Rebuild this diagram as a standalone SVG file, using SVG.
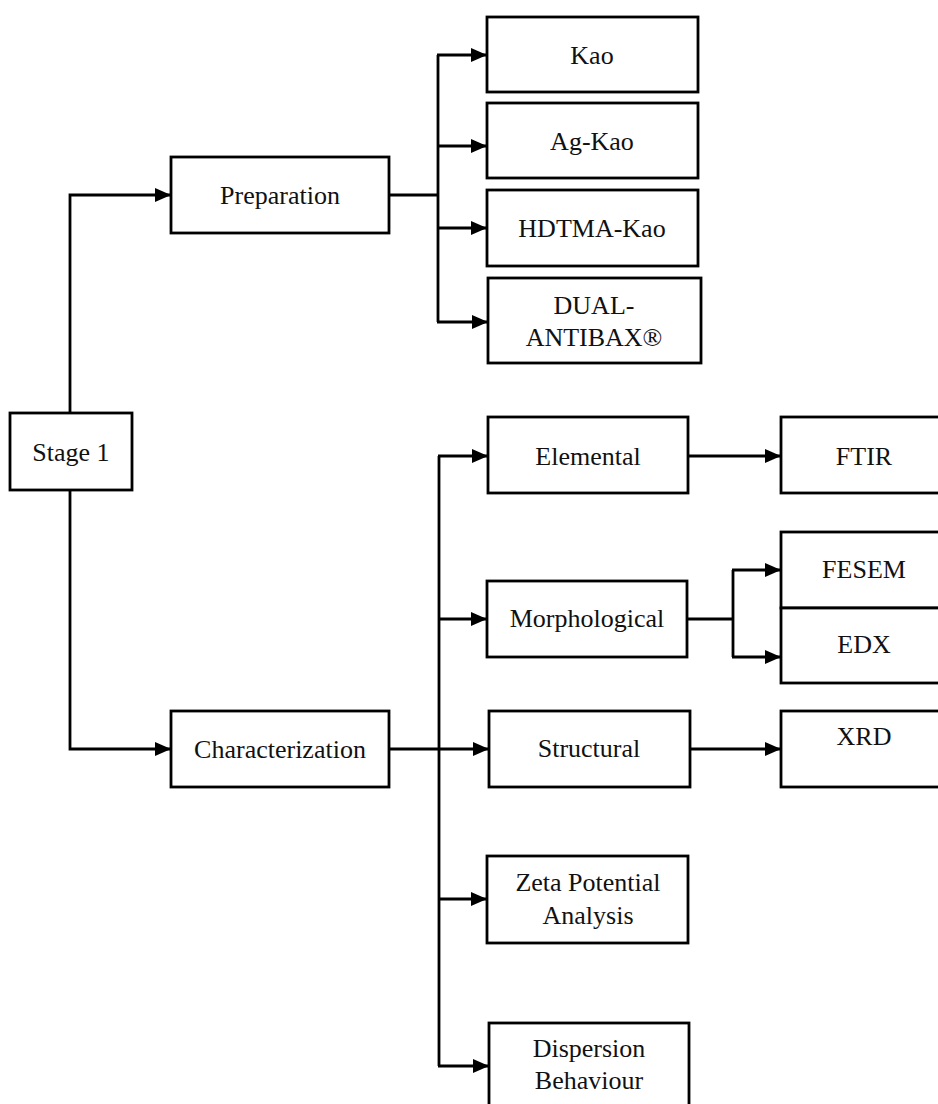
<svg xmlns="http://www.w3.org/2000/svg" width="938" height="1104" viewBox="0 0 938 1104">
<style>
.box{fill:#fff;stroke:#000;stroke-width:2.8}
.lbl{font-family:"Liberation Serif","Times New Roman",serif;font-size:26px;fill:#111;text-anchor:middle}
.ln{fill:none;stroke:#000;stroke-width:2.8}
.ar{fill:none;stroke:#000;stroke-width:2.8;marker-end:url(#ah)}
</style>
<defs>
<marker id="ah" markerUnits="userSpaceOnUse" markerWidth="16" markerHeight="14" refX="16" refY="7" orient="auto">
<path d="M0,0 L16,7 L0,14 z" fill="#000"/>
</marker>
</defs>
<rect width="938" height="1104" fill="#fff"/>
<g id="connectors">
<path class="ar" d="M70,413 V195 H171"/>
<path class="ar" d="M70,490 V749 H171"/>
<path class="ln" d="M389,195 H438"/>
<path class="ln" d="M438,55 V322"/>
<path class="ar" d="M437,55 H487"/>
<path class="ar" d="M437,146 H487"/>
<path class="ar" d="M437,228 H487"/>
<path class="ar" d="M437,322 H488"/>
<path class="ar" d="M389,749 H489"/>
<path class="ln" d="M439,456 V1066"/>
<path class="ar" d="M438,456 H488"/>
<path class="ar" d="M438,619 H487"/>
<path class="ar" d="M438,899 H487"/>
<path class="ar" d="M438,1066 H489"/>
<path class="ar" d="M688,456 H781"/>
<path class="ln" d="M687,619 H733"/>
<path class="ln" d="M733,570 V657"/>
<path class="ar" d="M732,570 H781"/>
<path class="ar" d="M732,657 H781"/>
<path class="ar" d="M690,749 H781"/>
</g>
<g id="stage1"><rect class="box" x="10" y="413" width="122" height="77"/><text class="lbl" x="71" y="461">Stage 1</text></g>
<g id="preparation"><rect class="box" x="171" y="157" width="218" height="76"/><text class="lbl" x="280" y="204">Preparation</text></g>
<g id="characterization"><rect class="box" x="171" y="711" width="218" height="76"/><text class="lbl" x="280" y="758">Characterization</text></g>
<g id="kao"><rect class="box" x="487" y="17" width="211" height="75"/><text class="lbl" x="592" y="64">Kao</text></g>
<g id="agkao"><rect class="box" x="487" y="103" width="211" height="75"/><text class="lbl" x="592" y="150">Ag-Kao</text></g>
<g id="hdtma"><rect class="box" x="487" y="190" width="211" height="76"/><text class="lbl" x="592" y="237">HDTMA-Kao</text></g>
<g id="dual"><rect class="box" x="488" y="278" width="213" height="85"/><text class="lbl" x="594" y="314">DUAL-</text><text class="lbl" x="594" y="346">ANTIBAX®</text></g>
<g id="elemental"><rect class="box" x="488" y="417" width="200" height="76"/><text class="lbl" x="588" y="465">Elemental</text></g>
<g id="ftir"><rect class="box" x="781" y="417" width="166" height="76"/><text class="lbl" x="864" y="465">FTIR</text></g>
<g id="morphological"><rect class="box" x="487" y="581" width="200" height="76"/><text class="lbl" x="587" y="627">Morphological</text></g>
<g id="fesem"><rect class="box" x="781" y="532" width="166" height="76"/><text class="lbl" x="864" y="578">FESEM</text></g>
<g id="edx"><rect class="box" x="781" y="608" width="166" height="75"/><text class="lbl" x="864" y="653">EDX</text></g>
<g id="structural"><rect class="box" x="489" y="711" width="201" height="76"/><text class="lbl" x="589" y="757">Structural</text></g>
<g id="xrd"><rect class="box" x="781" y="711" width="166" height="76"/><text class="lbl" x="864" y="745">XRD</text></g>
<g id="zeta"><rect class="box" x="487" y="856" width="201" height="87"/><text class="lbl" x="588" y="891">Zeta Potential</text><text class="lbl" x="588" y="924">Analysis</text></g>
<g id="dispersion"><rect class="box" x="489" y="1023" width="200" height="90"/><text class="lbl" x="589" y="1057">Dispersion</text><text class="lbl" x="589" y="1089">Behaviour</text></g>
</svg>
